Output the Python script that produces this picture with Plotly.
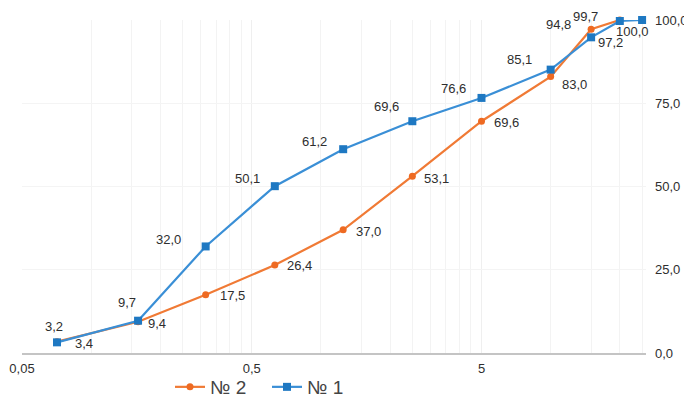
import math
import plotly.graph_objects as go

# ---- data ----
sizes_1 = [0.071, 0.16, 0.315, 0.63, 1.25, 2.5, 5, 10, 15, 20, 25]
pass_1 = [3.2, 9.7, 32.0, 50.1, 61.2, 69.6, 76.6, 85.1, 94.8, 99.7, 100.0]
show_label_1 = [True] * 10 + [False]

sizes_2 = [0.071, 0.16, 0.315, 0.63, 1.25, 2.5, 5, 10, 15, 20]
pass_2 = [3.4, 9.4, 17.5, 26.4, 37.0, 53.1, 69.6, 83.0, 97.2, 100.0]

x_tickvals = [0.05, 0.5, 5]
x_ticktext = ["0,05", "0,5", "5"]
y_tickvals = [0, 25, 50, 75, 100]

# ---- style ----
ORANGE = "#F07A35"
ORANGE_M = "#EE6A22"
BLUE = "#3A8FD6"
BLUE_M = "#1E78C2"
TXT = "#2e2e2e"
FONT = "Liberation Sans, Arial, sans-serif"

# the page body has an 8px default margin; size the figure to fit the window
W, H = 684, 395

# label offsets in px (dx right, dy down), purely presentational
off_1 = [(-3, -16), (-11, -18), (-37, -7), (-27, -8), (-29, -8), (-26, -15),
         (-28, -9), (-31, -10), (-33, -13), (-34, -5), (0, 0)]
off_2 = [(27, 2), (19, 2), (27, 1), (25, 0), (25, 2), (24, 2), (25, 1),
         (24, 8), (19, 13), (13, 11)]

minor_vals = ([0.05 * k for k in range(2, 10)] + [0.5 * k for k in range(2, 10)]
              + [5 * k for k in range(2, 6)])


def fmt(v):
    return f"{v:.1f}".replace(".", ",")


fig = go.Figure()
fig.add_trace(go.Scatter(
    x=sizes_2, y=pass_2, name="№ 2", mode="lines+markers",
    line=dict(color=ORANGE, width=2.2),
    marker=dict(symbol="circle", size=7, color=ORANGE_M),
    cliponaxis=False,
))
fig.add_trace(go.Scatter(
    x=sizes_1, y=pass_1, name="№ 1", mode="lines+markers",
    line=dict(color=BLUE, width=2.2),
    marker=dict(symbol="square", size=8, color=BLUE_M),
    cliponaxis=False,
))

annotations = []
for x, y, (dx, dy), show in zip(sizes_1, pass_1, off_1, show_label_1):
    if not show:
        continue
    annotations.append(dict(x=math.log10(x), y=y, xref="x", yref="y",
                            text=fmt(y), showarrow=False, xshift=dx, yshift=-dy,
                            font=dict(family=FONT, size=13, color=TXT)))
for x, y, (dx, dy) in zip(sizes_2, pass_2, off_2):
    annotations.append(dict(x=math.log10(x), y=y, xref="x", yref="y",
                            text=fmt(y), showarrow=False, xshift=dx, yshift=-dy,
                            font=dict(family=FONT, size=13, color=TXT)))

fig.update_layout(
    width=W, height=H,
    margin=dict(l=14, r=46, t=12, b=50, autoexpand=False),
    paper_bgcolor="white", plot_bgcolor="white",
    separators=", ",
    font=dict(family=FONT, size=13, color=TXT),
    showlegend=True,
    legend=dict(orientation="h", xref="container", x=162 / W, xanchor="left",
                yref="container", y=(H - 379) / H, yanchor="middle",
                bgcolor="rgba(0,0,0,0)",
                font=dict(family=FONT, size=19, color="#444"),
                itemwidth=30, entrywidth=52, entrywidthmode="pixels",
                traceorder="normal"),
    annotations=annotations,
    xaxis=dict(type="log", range=[math.log10(0.05), math.log10(26)],
               tickmode="array", tickvals=x_tickvals, ticktext=x_ticktext,
               showgrid=True, gridcolor="#efefef", gridwidth=1,
               minor=dict(tickmode="array", tickvals=minor_vals, showgrid=True,
                          gridcolor="#f3f3f3", gridwidth=1),
               showline=True, linecolor="#c4c4c4", linewidth=1.5,
               ticks="", ticklabelstandoff=3,
               zeroline=False, tickfont=dict(size=13, color=TXT)),
    yaxis=dict(range=[0, 100], side="right", tickmode="array", tickvals=y_tickvals,
               tickformat=".1f", showgrid=True, gridcolor="#f4f4f4",
               ticks="", ticklabelstandoff=8,
               zeroline=False, showline=False, tickfont=dict(size=13, color=TXT)),
)

fig.write_html("out.html")
